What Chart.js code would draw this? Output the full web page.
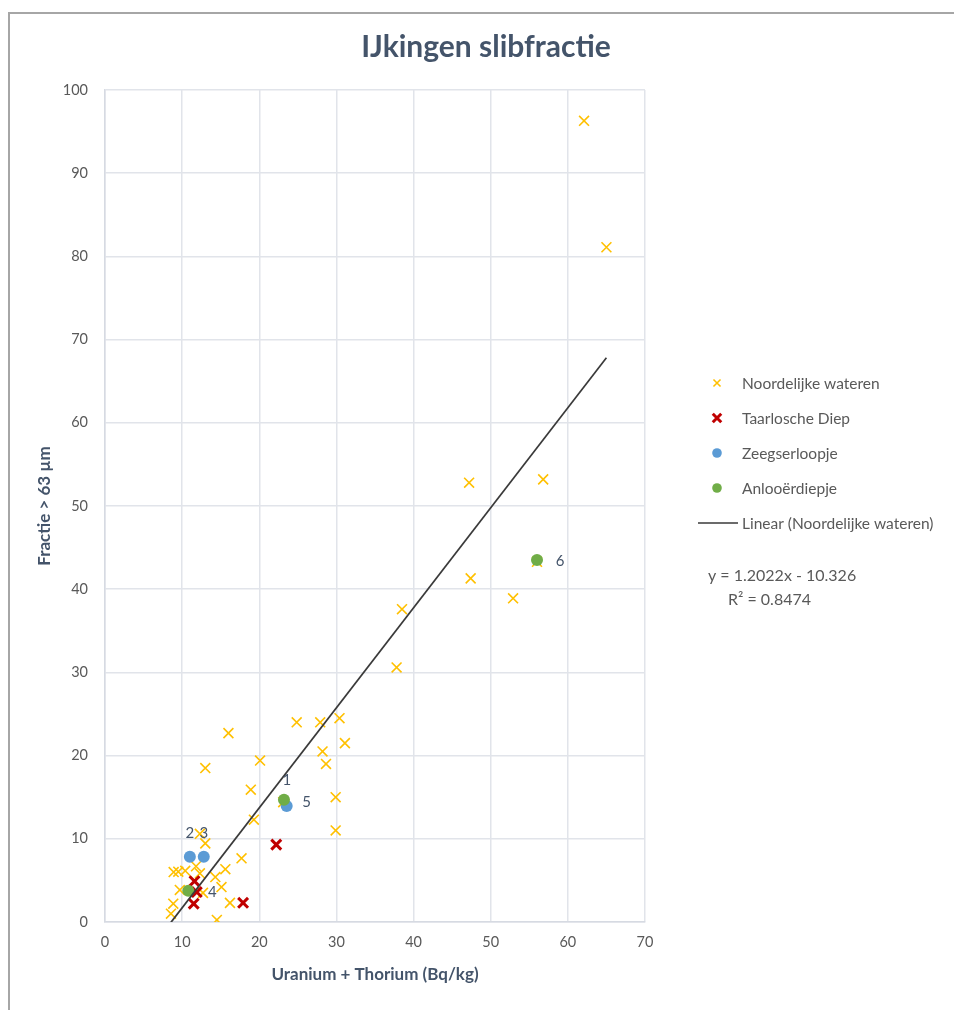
<!DOCTYPE html>
<html><head><meta charset="utf-8">
<script src="https://cdn.jsdelivr.net/npm/chart.js@4"></script>
<style>html,body{margin:0;padding:0;background:#fff}#wrap{position:relative;width:954px;height:1010px}</style>
</head><body><div id="wrap"><canvas id="c" width="954" height="1010"></canvas></div>
<script>
// Noordelijke wateren
const noordX = [62.1, 65.0, 47.2, 56.8, 47.4, 52.9, 38.5, 37.8, 24.85, 27.9, 30.4, 31.1, 16.0, 28.2, 28.65, 13.0, 20.1, 18.9, 29.9, 29.9, 19.3, 23.1, 12.3, 13.0, 17.7, 8.9, 9.5, 10.4, 11.8, 12.3, 14.3, 15.6, 15.1, 12.7, 9.7, 16.2, 8.85, 8.55, 14.5, 56.0];
const noordY = [96.3, 81.1, 52.8, 53.2, 41.3, 38.9, 37.6, 30.6, 24.0, 24.0, 24.5, 21.5, 22.7, 20.5, 19.0, 18.5, 19.4, 15.9, 15.0, 11.0, 12.3, 14.4, 10.6, 9.45, 7.65, 6.0, 6.05, 6.15, 6.7, 5.85, 5.4, 6.35, 4.2, 3.5, 3.85, 2.3, 2.2, 1.0, 0.25, 43.3];
// Taarlosche Diep
const taarX = [22.2, 17.9, 11.6, 11.9, 11.5];
const taarY = [9.3, 2.3, 4.9, 3.6, 2.2];
// Zeegserloopje
const zeegX = [11.0, 12.8, 23.55];
const zeegY = [7.85, 7.85, 13.95];
const zeegLabels = ['2', '3', '5'];
// Anlooërdiepje
const anloX = [23.2, 10.8, 56.0];
const anloY = [14.7, 3.76, 43.5];
const anloLabels = ['1', '4', '6'];
// Trendline (Excel linear fit on Noordelijke wateren)
const trendSlope = 1.2022;
const trendIntercept = -10.326;
const trendR2 = 0.8474;
const xTicks = [0, 10, 20, 30, 40, 50, 60, 70];
const yTicks = [0, 10, 20, 30, 40, 50, 60, 70, 80, 90, 100];
const chartTitle = 'IJkingen slibfractie';

const pts = (xs, ys) => xs.map((x, i) => ({x: x, y: ys[i]}));
const tMin = Math.min(...noordX), tMax = Math.max(...noordX);
const trendPts = [tMin, tMax].map(x => ({x: x, y: trendSlope * x + trendIntercept}));

const FONT = 'Lato, "Open Sans", sans-serif';
const TXT = '#595959';
const DARK = '#44546a';

const labelOffsets = {
  zeeg: [[0, -24], [0, -24], [20, -4]],
  anlo: [[3, -20], [24, 1], [23, 1]]
};

const framePlugin = {
  id: 'frame',
  beforeDraw(chart) {
    const ctx = chart.ctx;
    ctx.save();
    ctx.fillStyle = '#fff';
    ctx.fillRect(0, 0, chart.width, chart.height);
    ctx.strokeStyle = '#a6a6a6';
    ctx.lineWidth = 2;
    ctx.beginPath();
    ctx.moveTo(9, chart.height);
    ctx.lineTo(9, 13);
    ctx.lineTo(chart.width, 13);
    ctx.stroke();
    ctx.restore();
  },
  afterDraw(chart) {
    const ctx = chart.ctx;
    ctx.save();
    ctx.font = 'bold 30px ' + FONT;
    ctx.fillStyle = DARK;
    ctx.textAlign = 'center';
    ctx.textBaseline = 'middle';
    ctx.fillText(chartTitle, 486, 47);
    ctx.restore();
  }
};

const labelPlugin = {
  id: 'ptLabels',
  afterDatasetsDraw(chart) {
    const ctx = chart.ctx;
    ctx.save();
    ctx.font = '15px ' + FONT;
    ctx.fillStyle = '#44546a';
    ctx.textAlign = 'center';
    ctx.textBaseline = 'middle';
    const sets = [[2, zeegLabels, labelOffsets.zeeg], [3, anloLabels, labelOffsets.anlo]];
    sets.forEach(([di, labels, offs]) => {
      const meta = chart.getDatasetMeta(di);
      meta.data.forEach((el, i) => {
        ctx.fillText(labels[i], el.x + offs[i][0], el.y + offs[i][1]);
      });
    });
    ctx.restore();
  }
};

const legendPlugin = {
  id: 'customLegend',
  afterDraw(chart) {
    const ctx = chart.ctx;
    const H = Chart.helpers;
    ctx.save();
    ctx.font = '15.5px ' + FONT;
    ctx.textBaseline = 'middle';
    ctx.textAlign = 'left';
    const x0 = 717, tx = 742, y0 = 383, dy = 35;
    for (let i = 0; i < 4; i++) {
      const ds = chart.data.datasets[i];
      const y = y0 + i * dy;
      ctx.strokeStyle = ds.borderColor;
      ctx.fillStyle = ds.backgroundColor;
      ctx.lineWidth = ds.borderWidth;
      H.drawPoint(ctx, {
        pointStyle: ds.pointStyle,
        radius: i === 0 ? 5 : (i === 1 ? 6 : 4.8),
        borderWidth: ds.borderWidth,
        rotation: 0
      }, x0, y);
      ctx.fillStyle = TXT;
      ctx.fillText(ds.label, tx, y + 1);
    }
    const ty = y0 + 4 * dy;
    const tds = chart.data.datasets[4];
    ctx.strokeStyle = tds.borderColor;
    ctx.lineWidth = tds.borderWidth;
    ctx.beginPath(); ctx.moveTo(698, ty); ctx.lineTo(738, ty); ctx.stroke();
    ctx.fillStyle = TXT;
    ctx.fillText(tds.label, tx, ty + 1);
    ctx.font = '16px ' + FONT;
    ctx.fillText('y = ' + trendSlope.toFixed(4) + 'x - ' + Math.abs(trendIntercept).toFixed(3), 708, 576);
    ctx.fillText('R\u00b2 = ' + trendR2.toFixed(4), 728, 600);
    ctx.restore();
  }
};

Chart.register(framePlugin, labelPlugin, legendPlugin);

new Chart(document.getElementById('c'), {
  type: 'scatter',
  data: {
    datasets: [
      {label: 'Noordelijke wateren', data: pts(noordX, noordY), pointStyle: 'crossRot', pointRadius: 7,
       borderColor: '#ffc000', backgroundColor: '#ffc000', borderWidth: 1.6, order: 5},
      {label: 'Taarlosche Diep', data: pts(taarX, taarY), pointStyle: 'crossRot', pointRadius: 7,
       borderColor: '#c00000', backgroundColor: '#c00000', borderWidth: 3, order: 4},
      {label: 'Zeegserloopje', data: pts(zeegX, zeegY), pointStyle: 'circle', pointRadius: 6,
       borderColor: '#5b9bd5', backgroundColor: '#5b9bd5', borderWidth: 0, order: 3},
      {label: 'Anlooërdiepje', data: pts(anloX, anloY), pointStyle: 'circle', pointRadius: 6,
       borderColor: '#70ad47', backgroundColor: '#70ad47', borderWidth: 0, order: 2},
      {label: 'Linear (Noordelijke wateren)', type: 'line', data: trendPts, showLine: true, pointRadius: 0,
       borderColor: '#3a3a3a', borderWidth: 1.7, fill: false, order: 1}
    ]
  },
  options: {
    responsive: false,
    devicePixelRatio: 1,
    animation: false,
    events: [],
    layout: {padding: {left: 30, right: 309, top: 90, bottom: 20}},
    plugins: {
      legend: {display: false},
      tooltip: {enabled: false},
      title: {display: false}
    },
    scales: {
      x: {
        type: 'linear', min: 0, max: 70,
        afterBuildTicks: s => { s.ticks = xTicks.map(v => ({value: v})); },
        afterFit: s => { s.height = 68; },
        grid: {color: '#e1e4ea', lineWidth: 1.5, drawTicks: false},
        border: {color: '#d6dae2', width: 1.5},
        ticks: {color: TXT, font: {family: FONT, size: 14.5}, padding: 12},
        title: {display: true, text: 'Uranium + Thorium (Bq/kg)', color: DARK,
                font: {family: FONT, size: 17, weight: 'bold', lineHeight: 1.2}, padding: {top: 0, bottom: 5}}
      },
      y: {
        type: 'linear', min: 0, max: 100,
        afterBuildTicks: s => { s.ticks = yTicks.map(v => ({value: v})); },
        afterFit: s => { s.width = 75; },
        grid: {color: '#e1e4ea', lineWidth: 1.5, drawTicks: false},
        border: {color: '#d6dae2', width: 1.5},
        ticks: {color: TXT, font: {family: FONT, size: 14.5}, padding: 17},
        title: {display: true, text: 'Fractie > 63 µm', color: DARK,
                font: {family: FONT, size: 17, weight: 'bold', lineHeight: 1.2}, padding: {top: 4, bottom: 0}}
      }
    }
  }
});
</script>
</body></html>
